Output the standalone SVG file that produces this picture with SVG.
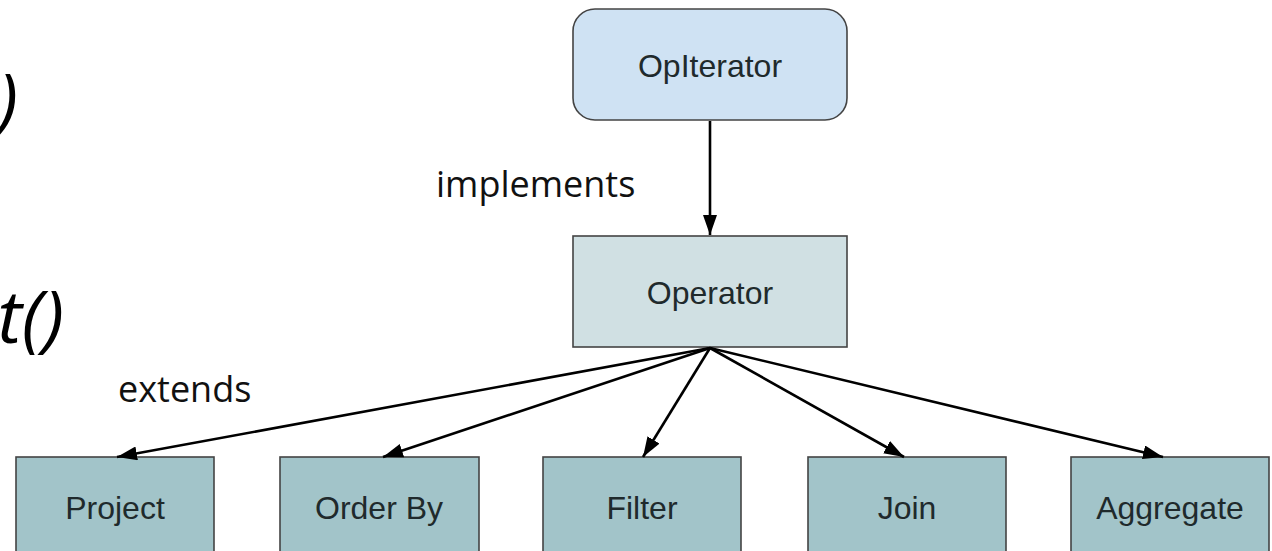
<svg xmlns="http://www.w3.org/2000/svg" width="1272" height="551" viewBox="0 0 1272 551">
<style>
.box{stroke:#444;stroke-width:1.6}
.lbl{font-family:"Liberation Sans",Arial,sans-serif;font-size:32px;fill:#1f2a2c;text-anchor:middle}
.note{font-family:"Open Sans",sans-serif;font-size:36px;fill:#111}
.big{font-family:"Open Sans",sans-serif;font-style:italic;font-size:74px;fill:#000;text-anchor:end}
.conn{stroke:#000;stroke-width:2.6;fill:none}
</style>
<defs>
<marker id="ah" viewBox="0 0 20 14" refX="20" refY="7" markerWidth="20" markerHeight="14" markerUnits="userSpaceOnUse" orient="auto">
<path d="M0,0 L20,7 L0,14 Z" fill="#000"/>
</marker>
</defs>
<rect width="1272" height="551" fill="#fff"/>
<text class="big" x="18" y="126">)</text>
<text class="big" x="64" y="343">t()</text>
<text class="note" x="436" y="197">implements</text>
<text class="note" x="118" y="402">extends</text>
<g id="opiterator">
<rect class="box" x="573" y="9" width="274" height="111" rx="22" fill="#cfe2f3"/>
<text class="lbl" x="710" y="77">OpIterator</text>
</g>
<g id="operator">
<rect class="box" x="573" y="236" width="274" height="111" fill="#d0e0e3"/>
<text class="lbl" x="710" y="304">Operator</text>
</g>
<g id="project">
<rect class="box" x="16" y="457" width="198" height="110" fill="#a2c4c9"/>
<text class="lbl" x="115" y="519">Project</text>
</g>
<g id="orderby">
<rect class="box" x="280" y="457" width="199" height="110" fill="#a2c4c9"/>
<text class="lbl" x="379" y="519">Order By</text>
</g>
<g id="filter">
<rect class="box" x="543" y="457" width="198" height="110" fill="#a2c4c9"/>
<text class="lbl" x="642" y="519">Filter</text>
</g>
<g id="join">
<rect class="box" x="808" y="457" width="198" height="110" fill="#a2c4c9"/>
<text class="lbl" x="907" y="519">Join</text>
</g>
<g id="aggregate">
<rect class="box" x="1071" y="457" width="198" height="110" fill="#a2c4c9"/>
<text class="lbl" x="1170" y="519">Aggregate</text>
</g>
<g id="connectors">
<line class="conn" x1="710" y1="121" x2="710" y2="235" marker-end="url(#ah)"/>
<line class="conn" x1="710" y1="348" x2="117" y2="457" marker-end="url(#ah)"/>
<line class="conn" x1="710" y1="348" x2="383" y2="457" marker-end="url(#ah)"/>
<line class="conn" x1="710" y1="348" x2="643" y2="457" marker-end="url(#ah)"/>
<line class="conn" x1="710" y1="348" x2="904" y2="457" marker-end="url(#ah)"/>
<line class="conn" x1="710" y1="348" x2="1163" y2="457" marker-end="url(#ah)"/>
</g>
</svg>
